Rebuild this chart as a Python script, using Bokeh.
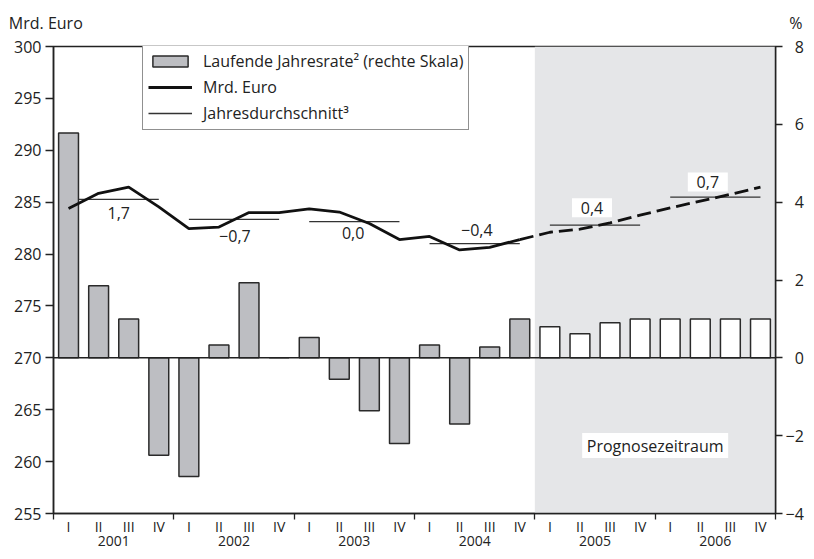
from bokeh.plotting import figure
from bokeh.models import (Range1d, LinearAxis, FixedTicker, BoxAnnotation, Span,
                          Legend, LegendItem, ColumnDataSource)
from bokeh.core.properties import value
from bokeh.embed import file_html
from bokeh.resources import INLINE

FONT = "Open Sans"

# ---- data ----
years = ["2001", "2002", "2003", "2004", "2005", "2006"]
quarters = ["I", "II", "III", "IV"]
# Mrd. Euro, quarterly (2001 Q1 .. 2006 Q4); 2005-2006 forecast
euro = [284.4, 285.85, 286.45, 284.55,
        282.45, 282.6, 284.0, 284.0,
        284.35, 284.05, 282.95, 281.4,
        281.7, 280.4, 280.65, 281.4,
        282.1, 282.4, 283.0, 283.75,
        284.45, 285.1, 285.75, 286.45]
# Laufende Jahresrate in % (right scale)
rate = [5.78, 1.85, 1.0, -2.5,
        -3.05, 0.33, 1.93, 0.0,
        0.52, -0.55, -1.36, -2.2,
        0.33, -1.7, 0.28, 1.0,
        0.8, 0.62, 0.9, 1.0,
        1.0, 1.0, 1.0, 1.0]
# Jahresdurchschnitt (Mrd. Euro) and its growth rate in %
avg_euro = [285.27, 283.35, 283.12, 281.0, 282.79, 285.49]
avg_growth = [1.7, -0.7, 0.0, -0.4, 0.4, 0.7]
n_hist = 16  # quarters up to 2004 Q4 are actual values

left_ticks = [255, 260, 265, 270, 275, 280, 285, 290, 295, 300]
right_ticks = [-4, -2, 0, 2, 4, 6, 8]

# ---- layout helpers (positions, not data) ----
label_dx = [0.17, 0.03, -0.04, 0.07, -0.1, -0.25]
label_dy = [-1.35, -1.62, -1.12, 1.33, 1.67, 1.45]

BAR_FILL = "#bdbec2"
INK = "#222222"
SHADE = "#e5e6e8"

nq = len(euro)
xc = [i + 0.5 for i in range(nq)]

p = figure(width=806, height=551, x_range=Range1d(0, nq), y_range=Range1d(255, 300),
           output_backend="svg", toolbar_location=None,
           x_axis_location=None, y_axis_location=None,
           min_border_left=53, min_border_right=28, min_border_top=46, min_border_bottom=38)
p.extra_y_ranges = {"pct": Range1d(-4, 8)}
p.xgrid.visible = False
p.ygrid.visible = False
p.outline_line_color = INK
p.outline_line_width = 1.5
p.background_fill_color = "white"

# forecast shading
p.add_layout(BoxAnnotation(left=n_hist, right=nq, fill_color=SHADE, fill_alpha=1,
                           line_color=None, level="underlay"))

# annual averages
ax0 = [4 * k + 0.5 for k in range(len(years))]
ax1 = [4 * k + 3.5 for k in range(len(years))]
avg_r = p.segment(x0=ax0, y0=avg_euro, x1=ax1, y1=avg_euro, line_color="#333333", line_width=1.3)

# bars
src_hist = ColumnDataSource(dict(x=xc[:n_hist], top=rate[:n_hist]))
src_fc = ColumnDataSource(dict(x=xc[n_hist:], top=rate[n_hist:]))
bars_hist = p.vbar(x="x", top="top", bottom=0, width=0.66, source=src_hist, y_range_name="pct",
                   fill_color=BAR_FILL, line_color="#2a2a2a", line_width=1.5)
p.vbar(x="x", top="top", bottom=0, width=0.66, source=src_fc, y_range_name="pct",
       fill_color="white", line_color="#2a2a2a", line_width=1.5)

p.add_layout(Span(location=270, dimension="width", line_color=INK, line_width=1.5))

# main line
line_hist = p.line(xc[:n_hist], euro[:n_hist], line_color="#111111", line_width=2.8)
p.line(xc[n_hist - 1:], euro[n_hist - 1:], line_color="#111111", line_width=2.8, line_dash="14 6")

# growth labels
def fmt(v):
    s = f"{v:.1f}".replace(".", ",")
    return s.replace("-", "\u2212")

lab_x = [(a + b) / 2 + d for a, b, d in zip(ax0, ax1, label_dx)]
lab_y = [a + d for a, d in zip(avg_euro, label_dy)]
lab_t = [fmt(v) for v in avg_growth]
nh_years = n_hist // 4
p.rect(x=lab_x[nh_years:], y=lab_y[nh_years:], width=40, height=19,
       width_units="screen", height_units="screen", fill_color="white", line_color=None)
p.text(x=lab_x, y=lab_y, text=lab_t, text_align="center", text_baseline="middle",
       text_font=value(FONT), text_font_size="16px", text_color=INK)

# Prognosezeitraum
p.rect(x=[20.0], y=[261.55], width=146, height=25, width_units="screen", height_units="screen",
       fill_color="white", line_color=None)
p.text(x=[20.0], y=[261.55], text=["Prognosezeitraum"], text_align="center", text_baseline="middle",
       text_font=value(FONT), text_font_size="16px", text_color=INK)

# axes
def style_axis(a, size="16px"):
    a.major_label_text_font = FONT
    a.major_label_text_font_size = size
    a.major_label_text_color = INK
    a.axis_line_color = INK
    a.axis_line_width = 1.5
    a.major_tick_line_color = INK
    a.major_tick_line_width = 1.3
    a.minor_tick_line_color = INK
    a.minor_tick_line_width = 1.3

yl = LinearAxis(ticker=FixedTicker(ticks=left_ticks), major_tick_out=8, major_tick_in=0,
                minor_tick_out=0, minor_tick_in=0, major_label_standoff=4)
style_axis(yl)
p.add_layout(yl, "left")

yr = LinearAxis(y_range_name="pct", ticker=FixedTicker(ticks=right_ticks), major_tick_out=7,
                major_tick_in=0, minor_tick_out=0, minor_tick_in=0, major_label_standoff=3,
                major_label_overrides={t: (fmt(t)[:-2] if t < 0 else "\u2007" + str(t)) for t in right_ticks})
style_axis(yr)
p.add_layout(yr, "right")

q_labels = {x: quarters[i % 4] for i, x in enumerate(xc)}
xq = LinearAxis(ticker=FixedTicker(ticks=xc, minor_ticks=[4 * k for k in range(len(years) + 1)]),
                major_tick_out=0, major_tick_in=0, minor_tick_out=6, minor_tick_in=0,
                major_label_standoff=-3, major_label_overrides=q_labels)
style_axis(xq, "14px")
p.add_layout(xq, "below")

ycen = [4 * k + 2 for k in range(len(years))]
xy = LinearAxis(ticker=FixedTicker(ticks=ycen), major_tick_out=0, major_tick_in=0,
                minor_tick_out=0, minor_tick_in=0, major_label_standoff=-3,
                major_label_overrides={c: y for c, y in zip(ycen, years)})
style_axis(xy, "14px")
xy.axis_line_color = None
p.add_layout(xy, "below")

# unit labels (as labels of a bare axis above the frame)
unit_ticks = [0.01, nq - 0.01]
ua = LinearAxis(ticker=FixedTicker(ticks=unit_ticks), major_tick_out=0, major_tick_in=0,
                minor_tick_out=0, minor_tick_in=0, major_label_standoff=13,
                major_label_overrides={unit_ticks[0]: "Mrd. Euro\u2003",
                                       unit_ticks[1]: "\u2003\u2003\u2007%"})
style_axis(ua)
ua.axis_line_color = None
p.add_layout(ua, "above")

# legend
legend = Legend(items=[
    LegendItem(label="Laufende Jahresrate\u00b2 (rechte Skala)", renderers=[bars_hist]),
    LegendItem(label="Mrd. Euro", renderers=[line_hist]),
    LegendItem(label="Jahresdurchschnitt\u00b3", renderers=[avg_r]),
], location=(89, 383), orientation="vertical",
    label_text_font=FONT, label_text_font_size="16px", label_text_color=INK,
    label_height=20, glyph_height=14, glyph_width=44, label_standoff=11,
    spacing=4, padding=5, margin=0,
    border_line_color=INK, border_line_width=1.5,
    background_fill_color="white", background_fill_alpha=1)
p.add_layout(legend)

open("out.html", "w").write(file_html(p, INLINE))
